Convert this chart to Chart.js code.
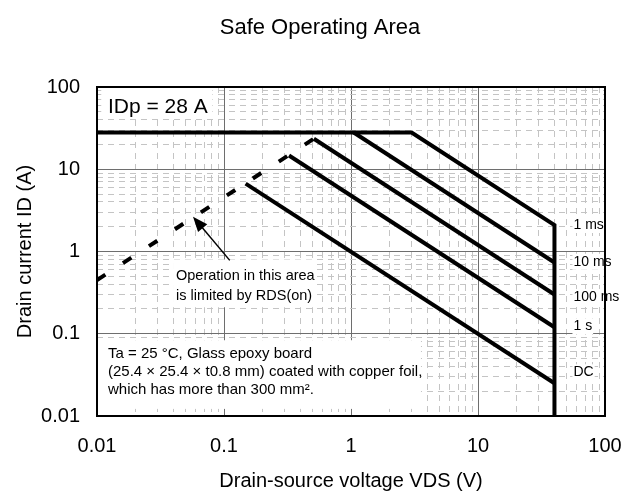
<!DOCTYPE html>
<html>
<head>
<meta charset="utf-8">
<script src="https://cdn.jsdelivr.net/npm/chart.js@4.4.1/dist/chart.umd.min.js"></script>
<style>
  html, body { margin: 0; padding: 0; background: #fff; }
  canvas { display: block; }
</style>
</head>
<body>
<canvas id="soa" width="623" height="496"></canvas>
<script>
// decade tick labels
const xTickLabels = ["0.01", "0.1", "1", "10", "100"];
const yTickLabels = ["0.01", "0.1", "1", "10", "100"];

// IDp limit, 1 ms line, then the 40 V wall
const limitV = [0.01, 3, 40, 40];
const limitI = [28, 28, 2.1, 0.01];

const ms10V = [1.05, 40];
const ms10I = [28, 0.735];

const ms100V = [0.51, 40];
const ms100I = [23.5, 0.3];

const s1V = [0.325, 40];
const s1I = [14.7, 0.12];

const dcV = [0.148, 40];
const dcI = [6.7, 0.025];

// RDS(on) limited region (dashed)
const rdsV = [0.01, 0.51];
const rdsI = [0.45, 23.5];

// labels next to the 40 V wall
const pulseLabels = ["1 ms", "10 ms", "100 ms", "1 s", "DC"];
const pulseLabelI = [2.1, 0.75, 0.28, 0.123, 0.034];

const FONT = "'Liberation Sans', Arial, sans-serif";

const pts = (xs, ys) => xs.map((v, i) => ({x: v, y: ys[i]}));

const isDecade = v => Math.abs(Math.log10(v) - Math.round(Math.log10(v))) < 1e-6;

// 1,2..9 per decade for the grid
function gridTicks(scale) {
    const ticks = [];
    for (let d = 0.01; d < 99; d *= 10) {
        for (let m = 1; m < 10; m++) ticks.push({value: d * m});
    }
    ticks.push({value: 100});
    scale.ticks = ticks;
}

function decadeLabel(labels) {
    return (value) => {
        if (!isDecade(value)) return "";
        return labels[Math.round(Math.log10(value)) + 2];
    };
}

const lineSet = (data, extra) => Object.assign({
    data: data,
    showLine: true,
    borderColor: "#000",
    borderWidth: 4,
    pointRadius: 0,
    borderJoinStyle: "miter",
    fill: false,
}, extra || {});

function textBox(ctx, x, y, lines, size, lineGap) {
    ctx.font = size + "px " + FONT;
    ctx.fillStyle = "#000";
    ctx.textAlign = "left";
    ctx.textBaseline = "middle";
    lines.forEach((t, i) => ctx.fillText(t, x, y + i * lineGap));
}

const notes = {
    id: "notes",
    beforeDatasetsDraw(chart) {
        const {ctx} = chart;
        const px = v => chart.scales.x.getPixelForValue(v);
        const py = v => chart.scales.y.getPixelForValue(v);
        ctx.save();
        ctx.fillStyle = "#fff";
        // IDp box
        ctx.fillRect(px(0.0108), py(100) + 1, px(0.081) - px(0.0108), py(42) - py(100));
        // RDS(on) note box
        ctx.fillRect(px(0.0397), py(0.8), px(0.54) - px(0.0397), py(0.21) - py(0.8));
        // board note box
        ctx.fillRect(px(0.01) + 1, py(0.0834), px(3.49) - px(0.01), py(0.0122) - py(0.0834));

        textBox(ctx, px(0.0122), py(57), ["IDp = 28 A"], 21, 0);
        textBox(ctx, px(0.0419), py(0.5), ["Operation in this area", "is limited by RDS(on)"], 14.5, 20);
        textBox(ctx, px(0.0122), py(0.0567), [
            "Ta = 25 \u00B0C, Glass epoxy board",
            "(25.4 \u00D7 25.4 \u00D7 t0.8 mm) coated with copper foil,",
            "which has more than 300 mm\u00B2."
        ], 15, 18);
        ctx.restore();
    },
    afterDatasetsDraw(chart) {
        const {ctx, chartArea: a} = chart;
        const px = v => chart.scales.x.getPixelForValue(v);
        const py = v => chart.scales.y.getPixelForValue(v);
        ctx.save();

        // arrow towards the RDS(on) line
        const x0 = px(0.111), y0 = py(0.78), x1 = px(0.057), y1 = py(2.65);
        const ang = Math.atan2(y1 - y0, x1 - x0);
        ctx.strokeStyle = "#000";
        ctx.lineWidth = 1.5;
        ctx.beginPath();
        ctx.moveTo(x0, y0);
        ctx.lineTo(x1 - 10 * Math.cos(ang), y1 - 10 * Math.sin(ang));
        ctx.stroke();
        ctx.fillStyle = "#000";
        ctx.beginPath();
        ctx.moveTo(x1, y1);
        ctx.lineTo(x1 - 15 * Math.cos(ang) + 6 * Math.sin(ang), y1 - 15 * Math.sin(ang) - 6 * Math.cos(ang));
        ctx.lineTo(x1 - 15 * Math.cos(ang) - 6 * Math.sin(ang), y1 - 15 * Math.sin(ang) + 6 * Math.cos(ang));
        ctx.closePath();
        ctx.fill();

        // pulse width labels
        ctx.font = "14px " + FONT;
        ctx.textBaseline = "middle";
        ctx.textAlign = "left";
        pulseLabels.forEach((t, i) => {
            const lx = px(40) + 19, ly = py(pulseLabelI[i]);
            const w = ctx.measureText(t).width;
            ctx.fillStyle = "#fff";
            ctx.fillRect(lx - 1, ly - 8, w + 2, 16);
            ctx.fillStyle = "#000";
            ctx.fillText(t, lx, ly);
        });

        // plot frame
        ctx.strokeStyle = "#000";
        ctx.lineWidth = 2;
        ctx.strokeRect(a.left, a.top, a.right - a.left, a.bottom - a.top);
        ctx.restore();
    }
};

const gridOpts = {
    color: c => (c.tick && isDecade(c.tick.value)) ? "#6e6e6e" : "#c4c4c4",
    lineWidth: 1,
    drawTicks: false,
};
const borderOpts = {
    display: false,
    dash: c => (c.tick && !isDecade(c.tick.value)) ? [6, 5] : [],
};

new Chart(document.getElementById("soa"), {
    type: "scatter",
    data: {
        datasets: [
            lineSet(pts(limitV, limitI)),
            lineSet(pts(ms10V, ms10I)),
            lineSet(pts(ms100V, ms100I)),
            lineSet(pts(s1V, s1I)),
            lineSet(pts(dcV, dcI)),
            lineSet(pts(rdsV, rdsI), {borderDash: [10, 21]}),
        ]
    },
    options: {
        responsive: false,
        animation: false,
        events: [],
        layout: { padding: { left: 17, right: 0 } },
        plugins: {
            legend: { display: false },
            tooltip: { enabled: false },
            title: {
                display: true,
                text: "Safe Operating Area",
                color: "#000",
                font: { family: FONT, size: 22, weight: "normal" },
                padding: { top: 15, bottom: 45.6 },
            },
        },
        scales: {
            x: {
                type: "logarithmic",
                min: 0.01,
                max: 100,
                afterBuildTicks: gridTicks,
                afterFit: s => { s.height = 80; s.paddingLeft = 0; s.paddingRight = 18; },
                grid: gridOpts,
                border: borderOpts,
                ticks: {
                    autoSkip: false,
                    maxRotation: 0,
                    padding: 18,
                    color: "#000",
                    font: { family: FONT, size: 20 },
                    callback: decadeLabel(xTickLabels),
                },
                title: {
                    display: true,
                    text: "Drain-source voltage VDS (V)",
                    color: "#000",
                    font: { family: FONT, size: 20 },
                    padding: { top: 0, bottom: 3 },
                },
            },
            y: {
                type: "logarithmic",
                min: 0.01,
                max: 100,
                afterBuildTicks: gridTicks,
                afterFit: s => { s.width = 80; },
                grid: gridOpts,
                border: borderOpts,
                ticks: {
                    autoSkip: false,
                    padding: 17,
                    color: "#000",
                    font: { family: FONT, size: 20 },
                    callback: decadeLabel(yTickLabels),
                },
                title: {
                    display: true,
                    text: "Drain current ID (A)",
                    color: "#000",
                    font: { family: FONT, size: 20 },
                    padding: { top: -4, bottom: 0 },
                },
            },
        },
    },
    plugins: [notes],
});
</script>
</body>
</html>
